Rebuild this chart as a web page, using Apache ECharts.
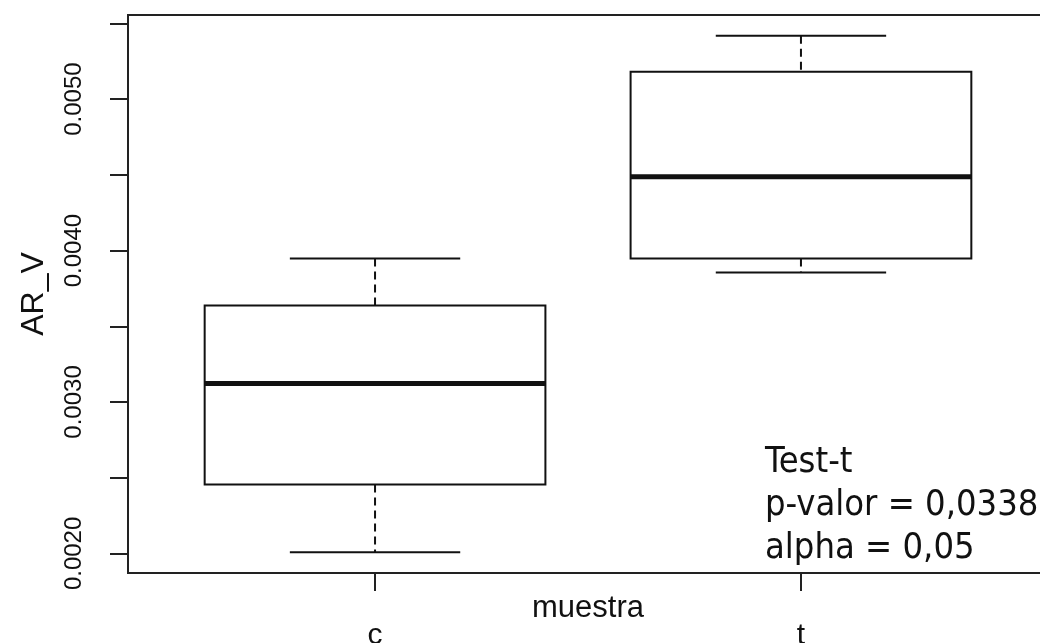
<!DOCTYPE html>
<html>
<head>
<meta charset="utf-8">
<title>AR_V por muestra</title>
<script src="https://cdn.jsdelivr.net/npm/echarts@6/dist/echarts.min.js"></script>
<style>
  html, body { margin: 0; padding: 0; background: #ffffff; }
  #chart { width: 1040px; height: 643px; }
</style>
</head>
<body>
<div id="chart"></div>
<script>
// Five-number summaries per group (whisker ends, quartiles, median)
const categories = ['c', 't'];
const lowerWhisker = [0.002007, 0.003855];
const q1 = [0.002455, 0.003947];
const median = [0.003122, 0.004488];
const q3 = [0.003637, 0.005181];
const upperWhisker = [0.003947, 0.005419];

// Axis ticks: every 0.0005, labels only at every 0.001
const yTicks = [0.0020, 0.0025, 0.0030, 0.0035, 0.0040, 0.0045, 0.0050, 0.0055];
const yLabels = [0.0020, 0.0030, 0.0040, 0.0050];
const xTicks = [1, 2];

const annotation = ['Test-t', 'p-valor = 0,0338', 'alpha = 0,05'];

// Axis limits padded by 4% of the data range, as base-graphics boxplots do
const dataMin = Math.min(...lowerWhisker);
const dataMax = Math.max(...upperWhisker);
const pad = 0.04 * (dataMax - dataMin);
const yMin = dataMin - pad;
const yMax = dataMax + pad;
const xMin = 0.5 - 0.04 * 2;
const xMax = 2.5 + 0.04 * 2;

const boxData = categories.map((c, i) => [
  i + 1, lowerWhisker[i], q1[i], median[i], q3[i], upperWhisker[i]
]);

const INK = '#111111';
const SANS = 'Liberation Sans, Arial, sans-serif';

function renderBox(params, api) {
  const x = api.value(0);
  const lo = api.coord([x, api.value(1)]);
  const b1 = api.coord([x, api.value(2)]);
  const md = api.coord([x, api.value(3)]);
  const b3 = api.coord([x, api.value(4)]);
  const hi = api.coord([x, api.value(5)]);
  const boxW = api.size([0.8, 0])[0];
  const capW = api.size([0.4, 0])[0];
  const cx = lo[0];
  const line = (x1, y1, x2, y2, w, dash) => ({
    type: 'line',
    shape: { x1, y1, x2, y2 },
    style: { stroke: INK, lineWidth: w, lineDash: dash || null, fill: null }
  });
  return {
    type: 'group',
    children: [
      // whiskers
      line(cx, hi[1], cx, b3[1], 2, [8, 5]),
      line(cx, b1[1], cx, lo[1], 2, [8, 5]),
      // caps
      line(cx - capW / 2, hi[1], cx + capW / 2, hi[1], 2),
      line(cx - capW / 2, lo[1], cx + capW / 2, lo[1], 2),
      // box
      {
        type: 'rect',
        shape: { x: cx - boxW / 2, y: b3[1], width: boxW, height: b1[1] - b3[1] },
        style: { fill: '#ffffff', stroke: INK, lineWidth: 2 }
      },
      // median
      line(cx - boxW / 2, md[1], cx + boxW / 2, md[1], 5)
    ]
  };
}

const chart = echarts.init(document.getElementById('chart'), null, { renderer: 'canvas' });

chart.setOption({
  backgroundColor: '#ffffff',
  animation: false,
  grid: {
    left: 128,
    top: 15,
    width: 920,
    height: 558,
    show: true,
    borderColor: '#222222',
    borderWidth: 2,
    backgroundColor: 'transparent',
    containLabel: false,
    outerBoundsMode: 'none'
  },
  xAxis: {
    type: 'value',
    min: xMin,
    max: xMax,
    name: 'muestra',
    nameLocation: 'middle',
    nameGap: 20,
    nameMoveOverlap: false,
    nameTextStyle: { fontFamily: SANS, fontSize: 31, color: '#111' },
    splitLine: { show: false },
    axisLine: { show: false },
    axisTick: {
      show: true,
      customValues: xTicks,
      length: 18,
      lineStyle: { color: '#222', width: 2 }
    },
    axisLabel: {
      show: true,
      customValues: xTicks,
      formatter: v => categories[Math.round(v) - 1] || '',
      margin: 48,
      fontFamily: SANS,
      fontSize: 30,
      color: '#111'
    }
  },
  yAxis: {
    type: 'value',
    min: yMin,
    max: yMax,
    name: 'AR_V',
    nameLocation: 'middle',
    nameRotate: 90,
    nameGap: 78,
    nameMoveOverlap: false,
    nameTextStyle: { fontFamily: SANS, fontSize: 32, color: '#111' },
    splitLine: { show: false },
    axisLine: { show: false },
    axisTick: {
      show: true,
      customValues: yTicks,
      length: 18,
      lineStyle: { color: '#222', width: 2 }
    },
    axisLabel: {
      show: true,
      customValues: yLabels,
      rotate: 90,
      margin: 42,
      formatter: v => v.toFixed(4),
      fontFamily: SANS,
      fontSize: 24,
      color: '#111'
    }
  },
  graphic: annotation.map((t, i) => ({
    type: 'text',
    left: 765,
    top: 445 + i * 43,
    style: {
      text: t,
      font: '36px "DejaVu Sans Condensed", "DejaVu Sans", sans-serif',
      fill: '#111'
    }
  })),
  series: [{
    type: 'custom',
    renderItem: renderBox,
    data: boxData,
    encode: { x: 0, y: [1, 2, 3, 4, 5] },
    clip: false,
    z: 3
  }]
});
</script>
</body>
</html>
